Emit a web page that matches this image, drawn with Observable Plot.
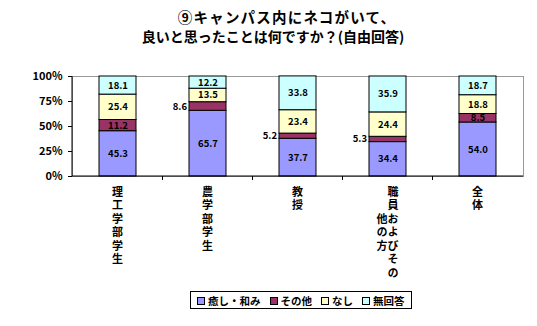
<!DOCTYPE html>
<html><head><meta charset="utf-8">
<script src="https://cdn.jsdelivr.net/npm/d3@7"></script>
<script src="https://cdn.jsdelivr.net/npm/@observablehq/plot@0.6"></script>
<style>
body{margin:0;background:#fff;font-family:"Noto Sans CJK JP",sans-serif;}
#wrap{position:relative;width:537px;height:326px;overflow:hidden;}
#title{height:48px;font-weight:bold;box-sizing:border-box;padding-top:7px;position:relative;}
#title div{position:absolute;white-space:nowrap;transform:translateX(-50%);}
#t1{left:287px;top:6px;font-size:14.5px;letter-spacing:1.2px;}
#t2{left:273px;top:26px;font-size:14px;}
#legend{position:relative;height:33px;}
#legend .box{position:absolute;left:190px;top:-2px;border:1px solid #000;display:flex;gap:9px;padding:0 6px;font-size:10.5px;font-weight:bold;align-items:center;height:16px;white-space:nowrap;}
#legend .sw{display:inline-block;width:6px;height:6px;border:1px solid #000;margin-right:3px;vertical-align:middle;position:relative;top:-1px;}
</style></head>
<body><div id="wrap">
<div id="title"><div id="t1">⑨キャンパス内にネコがいて、</div><div id="t2">良いと思ったことは何ですか？(自由回答)</div></div>
<div id="chart"></div>
<div id="legend"></div>
</div>
<script>
const categories = ["理工学部学生","農学部学生","教授","職員およびその他の方","全体"];
const seriesNames = ["癒し・和み","その他","なし","無回答"];
const iyashi = [45.3, 65.7, 37.7, 34.4, 54.0];
const sonota = [11.2, 8.6, 5.2, 5.3, 8.5];
const nashi  = [25.4, 13.5, 23.4, 24.4, 18.8];
const mukaito= [18.1, 12.2, 33.8, 35.9, 18.7];
const colors = ["#9999FF","#993366","#FFFFCC","#CCFFFF"];
const yTicks = [0,25,50,75,100];
// labels drawn to the left of their bar (small segments)
const outsideLabels = new Set(["農学部学生|その他","教授|その他","職員およびその他の方|その他"]);

const seriesValues = [iyashi, sonota, nashi, mukaito];
const data = [];
categories.forEach((c,i)=>seriesNames.forEach((s,j)=>data.push({cat:c, series:s, value:seriesValues[j][i]})));

// vertical labels: columns of max 7 chars, right to left
const labelCols = [];
categories.forEach(c=>{
  const chars = Array.from(c);
  const first = chars.slice(0,7), rest = chars.slice(7);
  if (rest.length===0) labelCols.push({cat:c, text:first.join(""), col:0, row:0});
  else {
    labelCols.push({cat:c, text:first.join(""), col:1, row:0});
    labelCols.push({cat:c, text:rest.join(""), col:-1, row:Math.floor((first.length-rest.length)/2)});
  }
});
const FS = 11, LS = 2.5, LH = FS + LS;

const W = 537, H = 245, mL = 72, mR = 14, mT = 28, mB = 117;
const stackOpts = {x:"cat", y:"value", z:"series", order: seriesNames};

const plot = Plot.plot({
  width: W, height: H,
  marginLeft: mL, marginRight: mR, marginTop: mT, marginBottom: mB,
  style: {fontFamily:'"Noto Sans CJK JP",sans-serif', background:"#fff"},
  x: {domain: categories, paddingInner: 0.59, paddingOuter: 0.295, axis: null},
  y: {domain: [0,100], ticks: yTicks, tickFormat: d=>d+"%", tickSize: 4, tickPadding: 6, label: null},
  color: {domain: seriesNames, range: colors},
  marks: [
    Plot.frame({stroke:"#999"}),
    Plot.barY(data, Plot.stackY({...stackOpts, fill:"series", stroke:"#000", strokeWidth:1})),
    Plot.text(data, Plot.stackY({...stackOpts, text: d=>outsideLabels.has(d.cat+"|"+d.series)?"":d.value.toFixed(1), fontSize:9.5, fontWeight:"bold", fill:"#000"})),
    Plot.text(data, Plot.stackY({...stackOpts, text: d=>outsideLabels.has(d.cat+"|"+d.series)?d.value.toFixed(1):"", fontSize:9.5, fontWeight:"bold", fill:"#000", textAnchor:"end", dx:-21})),
    (index, scales, values, dims) => {
      const g = d3.create("svg:g");
      const x = scales.x, y = scales.y;
      const step = x.step();
      g.append("line").attr("x1", dims.marginLeft).attr("x2", dims.marginLeft).attr("y1", y(0)).attr("y2", y(100)).attr("stroke","#000");
      g.append("line").attr("x1", dims.marginLeft).attr("x2", dims.width-dims.marginRight).attr("y1", y(0)).attr("y2", y(0)).attr("stroke","#000");
      categories.forEach(c=>{
        const bx = x(c) + x.bandwidth()/2 - step/2;
        if (c!==categories[0]) g.append("line").attr("x1",bx).attr("x2",bx).attr("y1",y(0)).attr("y2",y(0)+4).attr("stroke","#000");
      });
      labelCols.forEach(l=>{
        const cx = x(l.cat) + x.bandwidth()/2 + l.col*5.5;
        g.append("text")
          .attr("x", cx).attr("y", y(0) + 10 + l.row*LH)
          .attr("text-anchor","start")
          .attr("font-size", FS).attr("font-weight","bold")
          .style("writing-mode","vertical-rl").style("letter-spacing", LS+"px")
          .text(l.text);
      });
      return g.node();
    }
  ]
});
plot.querySelectorAll('g[aria-label="y-axis tick label"]').forEach(e=>{e.setAttribute("font-weight","bold");e.setAttribute("font-size","11");});
document.getElementById("chart").appendChild(plot);

const lg = d3.select("#legend").append("div").attr("class","box");
seriesNames.forEach((s,i)=>{
  const it = lg.append("span");
  it.append("span").attr("class","sw").style("background",colors[i]);
  it.append("span").text(s);
});
</script></body></html>
